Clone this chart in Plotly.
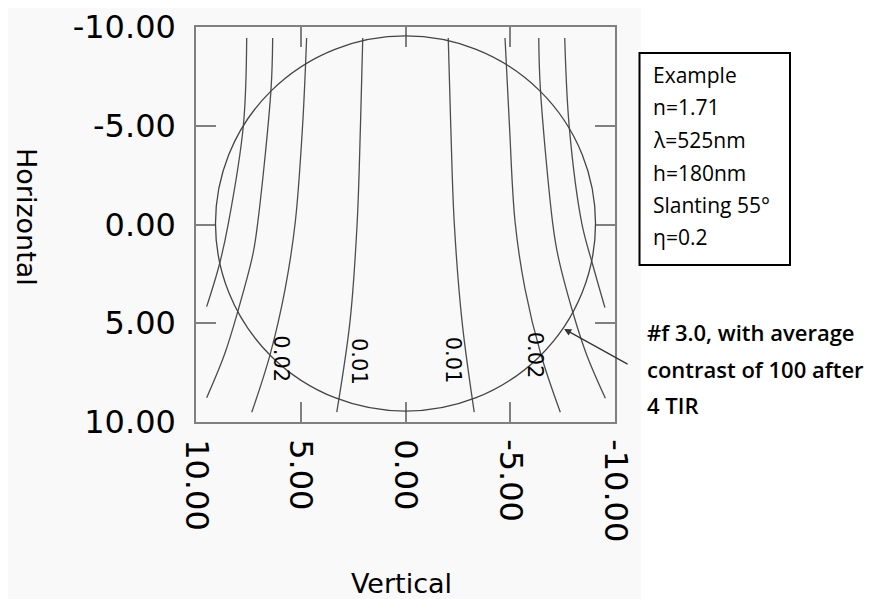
import plotly.graph_objects as go

# ---- data ----
tick_vals = [10, 5, 0, -5, -10]
tick_text = ["10.00", "5.00", "0.00", "-5.00", "-10.00"]
ytick_vals = [-10, -5, 0, 5, 10]
ytick_text = ["-10.00", "-5.00", "0.00", "5.00", "10.00"]

# contour lines (x = Vertical, y = Horizontal)
curve_a_y = [-9.44, -5.0, -0.03, 2.05, 4.16]
curve_a_x = [7.58, 7.74, 8.46, 8.89, 9.49]
curve_b_y = [-9.44, -6.83, -0.03, 1.54, 4.42, 6.61, 8.77]
curve_b_x = [6.34, 6.42, 7.06, 7.29, 8.01, 8.65, 9.49]
curve_c_y = [-9.44, -5.05, -0.14, 3.23, 6.61, 9.51]
curve_c_x = [4.72, 4.91, 5.26, 5.74, 6.47, 7.34]
curve_d_y = [-9.44, -5.0, -0.03, 4.92, 9.5]
curve_d_x = [2.04, 2.15, 2.31, 2.65, 3.28]
curve_e_y = [-9.44, -5.0, -0.03, 4.92, 9.5]
curve_e_x = [-2.04, -2.16, -2.33, -2.70, -3.28]
curve_f_y = [-9.44, -5.05, -0.14, 3.23, 6.61, 9.51]
curve_f_x = [-4.75, -4.96, -5.23, -5.70, -6.47, -7.39]
curve_g_y = [-9.44, -6.83, -0.03, 1.54, 4.42, 6.61, 8.80]
curve_g_x = [-6.36, -6.44, -7.03, -7.27, -7.98, -8.65, -9.54]
curve_h_y = [-9.44, -4.89, -0.03, 2.05, 4.21]
curve_h_x = [-7.60, -7.82, -8.42, -8.94, -9.52]

label_text = ["0.02", "0.01", "0.01", "0.02"]
label_x = [5.94, 2.23, -2.28, -6.20]
label_y = [6.78, 6.95, 6.86, 6.61]

circle_rx = 9.07
circle_ry = 9.5
circle_cy = -0.05

box_lines = ["Example", "n=1.71", "λ=525nm", "h=180nm", "Slanting 55°", "η=0.2"]
note_lines = ["#f 3.0, with average", "contrast of 100 after", "4 TIR"]
arrow_x = -7.57
arrow_y = 5.29

curves = [
    (curve_a_x, curve_a_y), (curve_b_x, curve_b_y), (curve_c_x, curve_c_y),
    (curve_d_x, curve_d_y), (curve_e_x, curve_e_y), (curve_f_x, curve_f_y),
    (curve_g_x, curve_g_y), (curve_h_x, curve_h_y),
]

fig = go.Figure()
for cx, cy in curves:
    fig.add_trace(go.Scatter(
        x=cx, y=cy, mode="lines",
        line=dict(color="#4d4d4d", width=1.3, shape="spline", smoothing=1.0),
        showlegend=False, hoverinfo="skip",
    ))

# circle
fig.add_shape(type="circle", xref="x", yref="y",
              x0=-circle_rx, x1=circle_rx,
              y0=circle_cy - circle_ry, y1=circle_cy + circle_ry,
              line=dict(color="#444444", width=1.3))

OFF = 8  # page offset of the figure inside the browser window
W, H = 881, 599
L = 196 - OFF
T = 27 - OFF
R = W - (615 - OFF)
B = H - (422 - OFF)
pw = W - L - R
ph = H - T - B

def px2x(px):
    return (px - OFF - L) / pw

def py2y(py):
    return (H - B - (py - OFF)) / ph

# white area on the right
fig.add_shape(type="rect", xref="paper", yref="paper",
              x0=px2x(641), x1=px2x(W + 20), y0=py2y(H + 20), y1=py2y(-20),
              fillcolor="white", line=dict(width=0), layer="below")

# text box
fig.add_shape(type="rect", xref="paper", yref="paper",
              x0=px2x(639.5), x1=px2x(790), y0=py2y(265), y1=py2y(53),
              line=dict(color="black", width=2), fillcolor="rgba(0,0,0,0)")

annotations = []
for txt, lx, ly in zip(label_text, label_x, label_y):
    annotations.append(dict(
        text=txt, x=lx, y=ly, xref="x", yref="y", textangle=90,
        showarrow=False, xanchor="center", yanchor="middle",
        font=dict(family="DejaVu Sans", size=21, color="black")))

box_py = [75, 107.5, 140, 172.5, 205, 237.5]
for txt, py in zip(box_lines, box_py):
    annotations.append(dict(
        text=txt, xref="paper", yref="paper", x=px2x(651), y=py2y(py),
        xanchor="left", yanchor="middle", showarrow=False,
        font=dict(family="Open Sans", size=21, color="black")))

note_py = [332, 369, 405]
for txt, py in zip(note_lines, note_py):
    annotations.append(dict(
        text=txt, xref="paper", yref="paper", x=px2x(645), y=py2y(py),
        xanchor="left", yanchor="middle", showarrow=False,
        font=dict(family="Open Sans", size=22, color="black", weight=600)))

annotations.append(dict(
    text="", x=arrow_x, y=arrow_y, xref="x", yref="y",
    ax=65, ay=36, showarrow=True, arrowhead=2, arrowsize=1.2,
    arrowwidth=1.2, arrowcolor="#333333"))

annotations.append(dict(
    text="Horizontal", xref="paper", yref="paper", x=px2x(27), y=py2y(217),
    textangle=90, showarrow=False, xanchor="center", yanchor="middle",
    font=dict(family="DejaVu Sans", size=27, color="black")))
annotations.append(dict(
    text="Vertical", xref="paper", yref="paper", x=px2x(401), y=py2y(583),
    showarrow=False, xanchor="center", yanchor="middle",
    font=dict(family="DejaVu Sans", size=27, color="black")))

axis_common = dict(
    showgrid=False, zeroline=False, showline=True, linecolor="#808080",
    linewidth=1.5, mirror="ticks", ticks="inside", ticklen=20, tickwidth=1.5,
    tickcolor="#808080", automargin=False, ticklabeloverflow="allow",
    tickfont=dict(family="DejaVu Sans", size=32, color="black"),
)

fig.update_layout(
    width=W, height=H,
    margin=dict(l=L, r=R, t=T, b=B, autoexpand=False),
    paper_bgcolor="#f9f9f9", plot_bgcolor="#f9f9f9",
    xaxis=dict(range=[10, -10], tickvals=tick_vals, ticktext=tick_text,
               tickangle=90, ticklabelstandoff=9, **axis_common),
    yaxis=dict(range=[10, -10], tickvals=ytick_vals, ticktext=ytick_text,
               ticklabelstandoff=12, **axis_common),
    annotations=annotations,
    showlegend=False,
)

fig.write_html("out.html")
